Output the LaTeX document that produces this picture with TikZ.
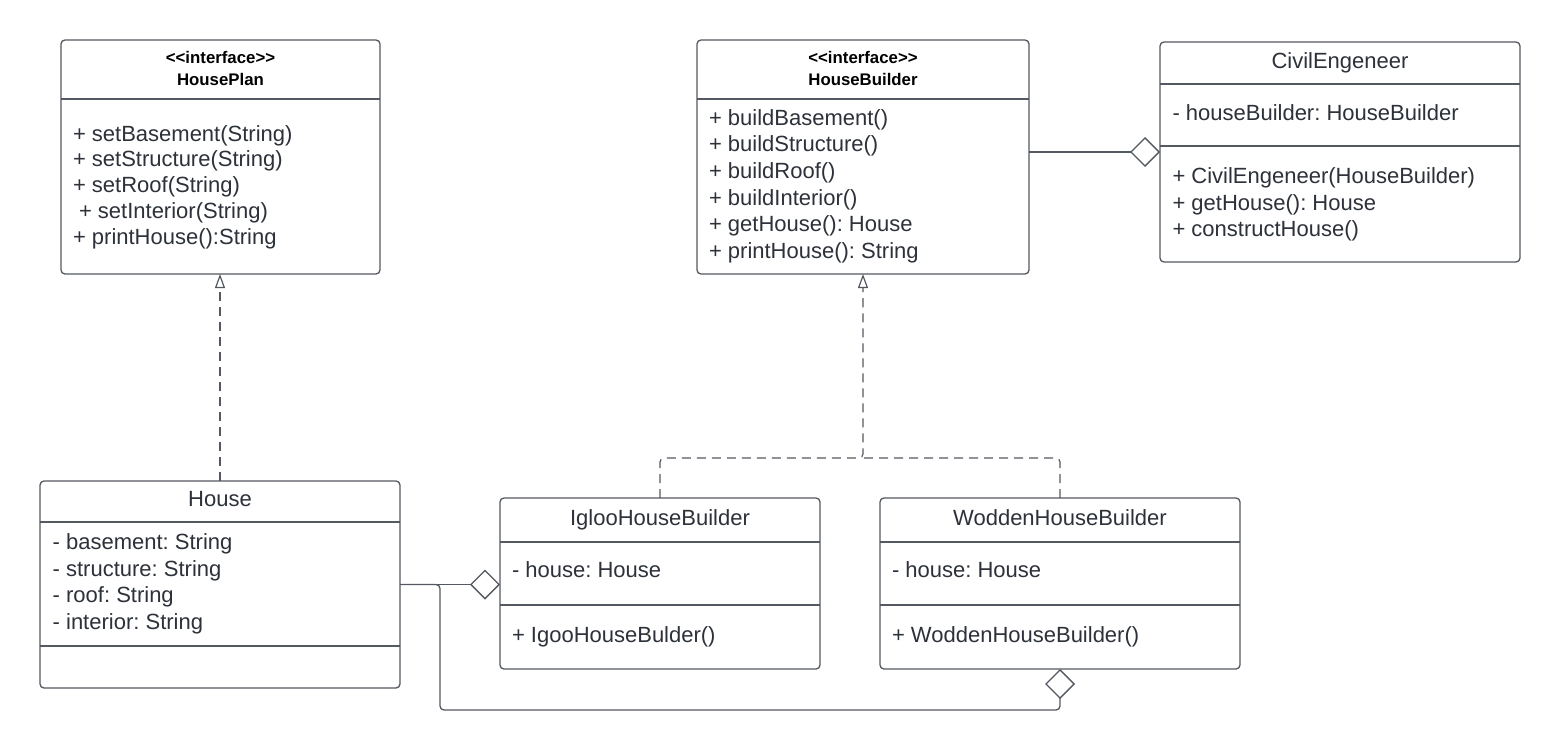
\documentclass[tikz,border=0pt]{standalone}
\usepackage{fontspec}
\setmainfont{Liberation Sans}[Ligatures=TeXOff]
\usetikzlibrary{arrows.meta}
\frenchspacing
\definecolor{linecol}{RGB}{84,88,96}
\definecolor{textcol}{RGB}{45,49,57}
\tikzset{
  umlbox/.style={draw=linecol, line width=0.65pt, rounded corners=2pt, rectangle, inner sep=0pt, outer sep=0pt, fill=white},
  divider/.style={draw=linecol, line width=0.6pt},
  txt/.style={anchor=base west, inner sep=0pt, outer sep=0pt, text=textcol, font=\fontsize{11}{13}\selectfont},
  ttl/.style={anchor=base, inner sep=0pt, outer sep=0pt, text=textcol, font=\fontsize{11}{13}\selectfont},
  hdr/.style={anchor=base, inner sep=0pt, outer sep=0pt, text=black, font=\fontsize{8.4}{10}\selectfont\bfseries},
  conn/.style={draw=linecol, line width=0.65pt},
  dashconn/.style={draw=linecol, line width=0.6pt, dash pattern=on 4.5pt off 3pt},
  realtip/.style={-{Triangle[open, length=7pt, width=5pt, line width=0.6pt]}},
  aggtip/.style={-{Diamond[open, length=15pt, width=15pt, line width=0.65pt]}}
}
\begin{document}
\begin{tikzpicture}[x=0.5pt, y=-0.5pt]
\useasboundingbox (0,0) rectangle (1560,750);

% ---------- boxes ----------
\node[umlbox, minimum width=159.5pt, minimum height=117pt] (hp) at (220.5,157) {};
\node[umlbox, minimum width=166pt, minimum height=117pt] (hb) at (863,157) {};
\node[umlbox, minimum width=180pt, minimum height=110pt] (civ) at (1340,152) {};
\node[umlbox, minimum width=180pt, minimum height=103.5pt] (house) at (220,584.5) {};
\node[umlbox, minimum width=160pt, minimum height=85.5pt] (igloo) at (660,583.5) {};
\node[umlbox, minimum width=180pt, minimum height=85.5pt] (wood) at (1060,583.5) {};

% ---------- dividers ----------
\draw[divider] (61,99) -- (380,99);
\draw[divider] (697,99) -- (1029,99);
\draw[divider] (1160,84) -- (1520,84);
\draw[divider] (1160,146) -- (1520,146);
\draw[divider] (40,522) -- (400,522);
\draw[divider] (40,646) -- (400,646);
\draw[divider] (500,542) -- (820,542);
\draw[divider] (500,605) -- (820,605);
\draw[divider] (880,542) -- (1240,542);
\draw[divider] (880,605) -- (1240,605);

% ---------- HousePlan ----------
\node[hdr] (hpS) at (220.5,63) {<<interface>>};
\node[hdr] (hpN) at (220.5,85) {HousePlan};
\node[txt] (hp1) at (73,141) {+ setBasement(String)};
\node[txt] (hp2) at (73,166.8) {+ setStructure(String)};
\node[txt] (hp3) at (73,192.6) {+ setRoof(String)};
\node[txt] (hp4) at (79,218.4) {+ setInterior(String)};
\node[txt] (hp5) at (73,244.2) {+ printHouse():String};

% ---------- HouseBuilder ----------
\node[hdr] (hbS) at (863,63) {<<interface>>};
\node[hdr] (hbN) at (863,85) {HouseBuilder};
\node[txt] (hb1) at (709,125) {+ buildBasement()};
\node[txt] (hb2) at (709,151.7) {+ buildStructure()};
\node[txt] (hb3) at (709,178.4) {+ buildRoof()};
\node[txt] (hb4) at (709,205.1) {+ buildInterior()};
\node[txt] (hb5) at (709,231.8) {+ getHouse(): House};
\node[txt] (hb6) at (709,258.5) {+ printHouse(): String};

% ---------- CivilEngeneer ----------
\node[ttl] (civN) at (1340,68.5) {CivilEngeneer};
\node[txt] (civ1) at (1172.5,120.7) {- houseBuilder: HouseBuilder};
\node[txt] (civ2) at (1172.5,183.3) {+ CivilEngeneer(HouseBuilder)};
\node[txt] (civ3) at (1172.5,210) {+ getHouse(): House};
\node[txt] (civ4) at (1172.5,236.7) {+ constructHouse()};

% ---------- House ----------
\node[ttl] (houseN) at (220,506.7) {House};
\node[txt] (house1) at (52.7,549.3) {- basement: String};
\node[txt] (house2) at (52.7,576) {- structure: String};
\node[txt] (house3) at (52.7,602.7) {- roof: String};
\node[txt] (house4) at (52.7,629.3) {- interior: String};

% ---------- IglooHouseBuilder ----------
\node[ttl] (iglooN) at (660,525.5) {IglooHouseBuilder};
\node[txt] (igloo1) at (512,577.3) {- house: House};
\node[txt] (igloo2) at (512,642.3) {+ IgooHouseBulder()};

% ---------- WoddenHouseBuilder ----------
\node[ttl] (woodN) at (1060,525.5) {WoddenHouseBuilder};
\node[txt] (wood1) at (892,577.3) {- house: House};
\node[txt] (wood2) at (892,642.3) {+ WoddenHouseBuilder()};

% ---------- connectors ----------
\coordinate (j) at (863,458);
\coordinate (k) at (440,710);

\draw[dashconn, realtip] (house.north) -- (house.north |- hp.south);
\draw[dashconn, realtip, rounded corners=2pt] (igloo.north) |- (j) -- (hb.south);
\draw[dashconn, rounded corners=2pt] (wood.north) |- (j);

\draw[conn, aggtip] (hb.east |- civ.west) -- (civ.west);
\draw[conn, aggtip] (house.east) -- (house.east -| igloo.west);
\draw[conn, aggtip, rounded corners=2pt] (house.east) -| (k) -| (wood.south);
\end{tikzpicture}
\end{document}
